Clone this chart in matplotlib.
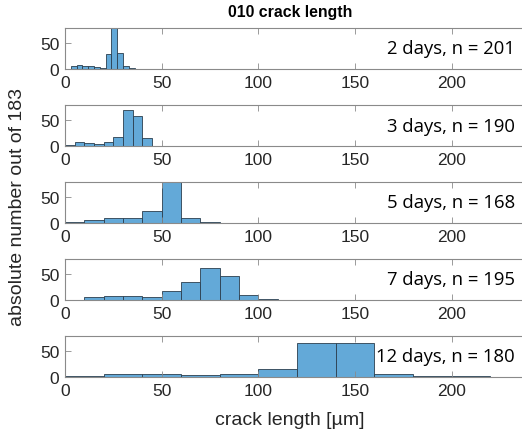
import numpy as np
import matplotlib
matplotlib.use('Agg')
import matplotlib.pyplot as plt

# histogram data per day (bin edges in um, counts per bin)
days    = [2, 3, 5, 7, 12]
n_total = [201, 190, 168, 195, 180]

edges_2d  = [3, 6, 9, 12, 15, 18, 21, 24, 27, 30, 33, 36]
counts_2d = [5, 7, 5, 6, 3, 2, 29, 105, 32, 6, 1]

edges_3d  = [0, 5, 10, 15, 20, 25, 30, 35, 40, 45]
counts_3d = [1, 8, 5, 3, 8, 18, 71, 59, 15]

edges_5d  = [0, 10, 20, 30, 40, 50, 60, 70, 80]
counts_5d = [1, 5, 9, 9, 24, 108, 10, 1]

edges_7d  = [10, 20, 30, 40, 50, 60, 70, 80, 90, 100, 110]
counts_7d = [5, 7, 7, 6, 17, 35, 62, 47, 9, 1]

edges_12d  = [0, 20, 40, 60, 80, 100, 120, 140, 160, 180, 200, 220]
counts_12d = [1, 5, 5, 3, 5, 15, 66, 66, 6, 1, 1]

all_edges  = [edges_2d, edges_3d, edges_5d, edges_7d, edges_12d]
all_counts = [counts_2d, counts_3d, counts_5d, counts_7d, counts_12d]

xticks = [0, 50, 100, 150, 200]
yticks = [0, 50]

plt.rcParams['font.family'] = ['Liberation Sans', 'DejaVu Sans']

W, H = 522, 435
fig = plt.figure(figsize=(W / 100, H / 100), dpi=100)

face = '#63a9d8'
edge = '#2b3e4e'
frame = '#8a8a8a'
tick_col = '#262626'

# axes run past the right edge of the figure, like the cropped original
tops = [29, 106, 183, 260, 337]
ax_h = 41
ax_w = 480
px_per_um = 1.933

for i, top in enumerate(tops):
    ax = fig.add_axes([65 / W, (H - top - ax_h) / H, ax_w / W, ax_h / H])
    e = np.array(all_edges[i], dtype=float)
    ax.bar(e[:-1], all_counts[i], width=np.diff(e), align='edge',
           color=face, edgecolor=edge, linewidth=0.6)
    ax.set_xlim(0, ax_w / px_per_um)
    ax.set_ylim(0, 80)
    ax.set_xticks(xticks)
    ax.set_yticks(yticks)
    ax.tick_params(direction='in', length=4, width=0.6, color=frame,
                   labelcolor=tick_col, labelsize=12.5, top=True, right=True, pad=4)
    for s in ax.spines.values():
        s.set_color(frame)
        s.set_linewidth(0.8)
    ax.text(450 / ax_w, 0.5, f'{days[i]} days, n = {n_total[i]}', transform=ax.transAxes,
            ha='right', va='center', fontsize=13.3, family=['Open Sans', 'DejaVu Sans'],
            color='black')

fig.text(290 / W, 1 - 12 / H, '010 crack length', ha='center', va='center',
         fontsize=11.4, fontweight='bold', color='black')
fig.text(290 / W, 1 - 421 / H, 'crack length [µm]', ha='center', va='center',
         fontsize=14, color=tick_col)
fig.text(18 / W, 1 - 207 / H, 'absolute number out of 183', ha='center', va='center',
         rotation=90, fontsize=14, color=tick_col)

fig.savefig('out.png', dpi=100)
